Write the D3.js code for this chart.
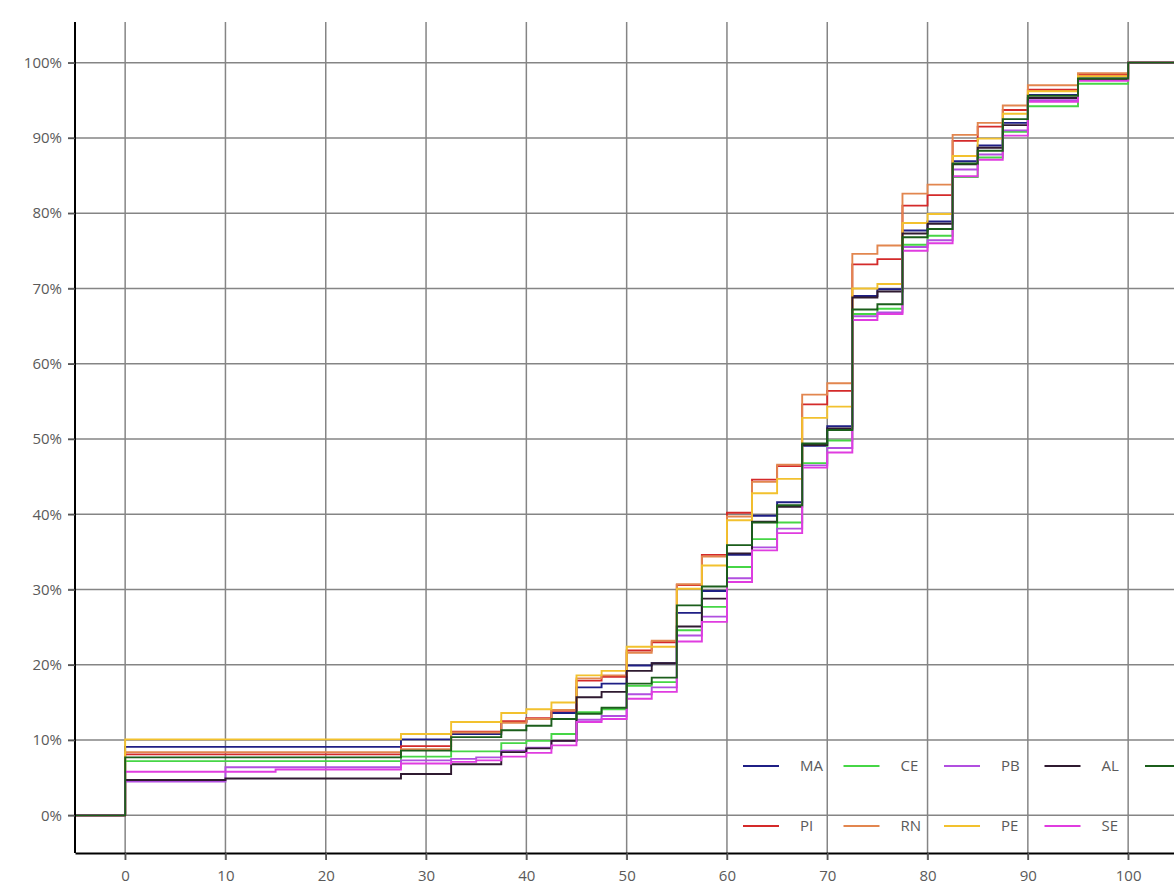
<!DOCTYPE html>
<html>
<head>
<meta charset="utf-8">
<script src="https://cdn.jsdelivr.net/npm/d3@7"></script>
<style>
  html, body { margin: 0; padding: 0; background: #fff; overflow: hidden; }
  svg { display: block; }
  text { font-family: "Open Sans", "Segoe UI", sans-serif; fill: #5a5a5a; font-size: 15px; }
</style>
</head>
<body>
<svg id="chart" width="1174" height="885"></svg>
<script>
// Step positions (score thresholds) where each cumulative curve changes value
const stepX = [0, 10, 15, 27.5, 32.5, 35, 37.5, 40, 42.5, 45, 47.5, 50, 52.5, 55, 57.5,
               60, 62.5, 65, 67.5, 70, 72.5, 75, 77.5, 80, 82.5, 85, 87.5, 90, 95, 100];

// Cumulative share (%) per state, one value per step position
const valuesMA = [9.1, 9.1, 9.1, 10.1, 10.8, 10.8, 12.4, 12.8, 13.6, 17.0, 17.5, 19.9, 20.2, 26.9, 29.8,
                  34.6, 39.8, 41.6, 49.1, 51.7, 69.0, 69.9, 77.7, 78.9, 86.9, 89.0, 92.0, 95.7, 97.9, 100];
const valuesPI = [8.1, 8.1, 8.1, 9.2, 11.1, 11.1, 12.5, 12.9, 13.9, 17.9, 18.4, 21.9, 23.0, 30.6, 34.6,
                  40.2, 44.6, 46.4, 54.6, 56.4, 73.2, 73.9, 81.0, 82.4, 89.6, 91.5, 93.7, 96.4, 98.4, 100];
const valuesCE = [7.2, 7.2, 7.2, 7.8, 8.5, 8.5, 9.6, 9.9, 10.8, 13.7, 14.1, 17.2, 17.7, 24.6, 27.7,
                  33.0, 36.7, 38.9, 46.8, 49.8, 66.6, 67.3, 75.8, 77.0, 84.8, 87.4, 90.8, 94.2, 97.2, 100];
const valuesRN = [8.4, 8.4, 8.4, 8.8, 11.0, 11.0, 12.3, 12.8, 14.0, 18.2, 18.6, 21.6, 23.2, 30.7, 34.4,
                  39.7, 44.3, 46.6, 55.9, 57.4, 74.6, 75.7, 82.6, 83.8, 90.4, 92.0, 94.3, 97.0, 98.6, 100];
const valuesPB = [4.5, 6.4, 6.4, 7.3, 7.5, 7.7, 8.6, 9.0, 9.9, 12.7, 13.2, 16.1, 17.0, 23.9, 26.4,
                  31.5, 35.6, 38.1, 46.5, 48.8, 66.3, 66.8, 75.5, 76.4, 85.8, 87.8, 91.0, 95.0, 97.7, 100];
const valuesPE = [10.1, 10.1, 10.1, 10.8, 12.4, 12.4, 13.6, 14.1, 15.0, 18.6, 19.2, 22.4, 22.4, 30.1, 33.2,
                  39.2, 42.8, 44.7, 52.8, 54.3, 70.0, 70.6, 78.7, 79.9, 87.6, 89.9, 93.2, 96.2, 98.2, 100];
const valuesAL = [4.7, 4.9, 4.9, 5.5, 6.8, 6.8, 8.4, 8.9, 9.9, 15.7, 16.4, 19.2, 20.2, 25.1, 28.8,
                  34.8, 39.0, 41.0, 49.2, 51.4, 68.8, 69.6, 77.3, 78.6, 86.5, 88.7, 91.7, 95.3, 97.8, 100];
const valuesSE = [5.8, 5.8, 6.1, 6.9, 7.1, 7.3, 7.8, 8.3, 9.3, 12.4, 12.8, 15.5, 16.4, 23.1, 25.7,
                  31.0, 35.2, 37.5, 46.2, 48.2, 65.8, 66.6, 75.0, 76.0, 84.9, 87.1, 90.3, 94.8, 97.6, 100];
const valuesBA = [7.7, 7.7, 7.7, 8.6, 10.4, 10.4, 11.3, 11.9, 12.8, 13.5, 14.3, 17.5, 18.3, 27.9, 30.4,
                  35.9, 38.9, 41.2, 49.4, 51.2, 67.2, 67.9, 76.8, 77.9, 86.6, 88.3, 92.5, 95.6, 97.9, 100];

const seriesNames  = ["MA", "PI", "CE", "RN", "PB", "PE", "AL", "SE", "BA"];
const seriesValues = [valuesMA, valuesPI, valuesCE, valuesRN, valuesPB, valuesPE, valuesAL, valuesSE, valuesBA];
const seriesColors = ["#1f1f85", "#d42a2a", "#46d646", "#e2864f", "#b14fe0", "#f2c12e", "#2f1a30", "#e03ce0", "#1b5e1b"];

const xTicks = [0, 10, 20, 30, 40, 50, 60, 70, 80, 90, 100];
const yTicks = [0, 10, 20, 30, 40, 50, 60, 70, 80, 90, 100];

// Layout
const W = 1174, H = 885;
const plotLeft = 75, plotBottom = 853, plotTop = 22;
const unitX = 10.03;
const xMin = -5, xMax = 110;

const svg = d3.select("#chart");

const x = d3.scaleLinear().domain([xMin, xMax]).range([plotLeft, plotLeft + (xMax - xMin) * unitX]);
const y = d3.scaleLinear().domain([-5, 105]).range([plotBottom, 25]);

// Grid
const grid = svg.append("g").attr("stroke", "#858585").attr("stroke-width", 1.5);
grid.selectAll("line.h").data(yTicks).join("line")
  .attr("class", "h")
  .attr("x1", plotLeft - 7).attr("x2", W)
  .attr("y1", d => y(d)).attr("y2", d => y(d));
grid.selectAll("line.v").data(xTicks).join("line")
  .attr("class", "v")
  .attr("x1", d => x(d)).attr("x2", d => x(d))
  .attr("y1", plotTop).attr("y2", plotBottom + 7);

// Step curves
const line = d3.line()
  .x(d => x(d[0]))
  .y(d => y(d[1]))
  .curve(d3.curveStepAfter);

const curves = svg.append("g").attr("fill", "none").attr("stroke-width", 1.9);
seriesNames.forEach((name, i) => {
  const pts = [[xMin, 0]].concat(stepX.map((sx, k) => [sx, seriesValues[i][k]]), [[xMax, 100]]);
  curves.append("path")
    .datum(pts)
    .attr("stroke", seriesColors[i])
    .attr("d", line);
});

// Axes
const yAxis = d3.axisLeft(y).tickValues(yTicks).tickFormat(d => d + "%").tickSize(7).tickSizeOuter(0).tickPadding(6);
const xAxis = d3.axisBottom(x).tickValues(xTicks).tickSize(7).tickSizeOuter(0).tickPadding(10);

const gy = svg.append("g").attr("transform", `translate(${plotLeft},0)`).call(yAxis);
const gx = svg.append("g").attr("transform", `translate(0,${plotBottom})`).call(xAxis);

gy.select(".domain").attr("d", `M0,${plotTop}V${plotBottom}`);
[gx, gy].forEach(g => {
  g.select(".domain").attr("stroke", "#000").attr("stroke-width", 2);
  g.selectAll(".tick line").attr("stroke", "#555").attr("stroke-width", 1.5);
  g.selectAll(".tick text").attr("fill", "#5a5a5a")
    .attr("font-family", '"Open Sans", "Segoe UI", sans-serif');
});
gx.selectAll(".tick text").attr("font-size", 15);
gy.selectAll(".tick text").attr("font-size", 16);

// Legend: two rows, filled column by column
const legend = svg.append("g");
const legX0 = 743, legDX = 100.5, legRowY = [766, 826];
seriesNames.forEach((name, i) => {
  const col = Math.floor(i / 2), row = i % 2;
  const lx = legX0 + col * legDX, ly = legRowY[row];
  legend.append("line")
    .attr("x1", lx).attr("x2", lx + 36)
    .attr("y1", ly).attr("y2", ly)
    .attr("stroke", seriesColors[i]).attr("stroke-width", 1.8);
  legend.append("text")
    .attr("x", lx + 57).attr("y", ly)
    .attr("dy", "0.35em")
    .text(name);
});
</script>
</body>
</html>
